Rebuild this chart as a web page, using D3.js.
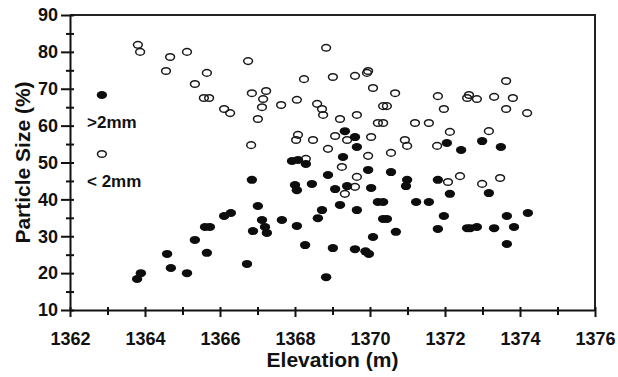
<!DOCTYPE html>
<html>
<head>
<meta charset="utf-8">
<script src="https://cdn.jsdelivr.net/npm/d3@7"></script>
<style>
  body { margin: 0; background: #fff; }
  svg { display: block; }
  text { font-family: "Liberation Sans", Arial, sans-serif; font-weight: bold; fill: #111; }
</style>
</head>
<body>
<div id="chart"></div>
<script>
// elevation (m) / particle size (%)
const coarseElev = [1369.33, 1369.60, 1369.65, 1369.28, 1367.92, 1368.08, 1368.29, 1368.88, 1369.95, 1370.56,
  1368.45, 1369.07, 1369.39, 1370.03, 1370.99, 1370.96, 1371.81, 1372.05, 1372.43, 1372.99,
  1373.49, 1372.13, 1373.17, 1369.20, 1369.65, 1368.72, 1368.61, 1370.21, 1370.35, 1371.23,
  1371.57, 1370.35, 1370.45, 1370.08, 1370.69, 1371.97, 1371.81, 1372.59, 1372.67, 1372.85,
  1373.31, 1373.65, 1373.84, 1374.21, 1373.65, 1368.27, 1369.01, 1369.60, 1369.88, 1369.97,
  1368.83, 1366.85, 1368.00, 1368.05, 1367.01, 1366.11, 1366.29, 1365.60, 1365.73, 1367.12,
  1367.20, 1367.25, 1366.88, 1367.65, 1368.05, 1365.33, 1364.59, 1365.65, 1364.69, 1365.12,
  1363.89, 1363.79, 1366.72];
const coarsePct = [58.5, 56.9, 54.2, 51.5, 50.4, 50.7, 49.6, 46.6, 48.0, 47.4,
  44.2, 42.8, 43.6, 43.1, 45.3, 43.6, 45.3, 55.3, 53.4, 55.8,
  54.2, 41.5, 41.7, 38.5, 37.1, 37.1, 34.9, 39.3, 39.3, 39.3,
  39.3, 34.7, 34.7, 29.8, 31.2, 35.5, 32.0, 32.2, 32.2, 32.5,
  32.2, 35.5, 32.5, 36.3, 27.9, 27.6, 26.8, 26.5, 25.9, 25.2,
  18.9, 45.3, 43.9, 42.5, 38.2, 35.5, 36.3, 32.5, 32.5, 34.4,
  32.5, 30.9, 31.4, 34.4, 32.8, 29.0, 25.2, 25.5, 21.4, 20.0,
  20.0, 18.4, 22.5];

const fineElev = [1363.81, 1363.87, 1364.67, 1364.56, 1365.12, 1365.33, 1365.65, 1365.57, 1365.71, 1366.11,
  1366.27, 1366.75, 1366.85, 1367.23, 1367.15, 1367.12, 1367.01, 1366.83, 1367.63, 1368.05,
  1368.24, 1368.08, 1368.03, 1368.48, 1368.29, 1368.83, 1369.01, 1369.60, 1369.92, 1369.95,
  1370.08, 1370.67, 1368.59, 1368.72, 1368.75, 1369.20, 1369.65, 1370.35, 1370.45, 1370.21,
  1370.35, 1371.20, 1371.57, 1371.81, 1371.97, 1372.59, 1372.64, 1372.85, 1373.31, 1373.81,
  1373.63, 1373.63, 1374.19, 1372.13, 1373.17, 1369.07, 1369.39, 1370.03, 1368.88, 1369.95,
  1370.56, 1370.93, 1370.99, 1371.79, 1369.25, 1369.65, 1369.60, 1369.33, 1372.40, 1372.08,
  1372.99, 1373.47];
const finePct = [81.9, 80.0, 78.6, 74.8, 80.0, 71.3, 74.3, 67.5, 67.5, 64.5,
  63.4, 77.5, 68.8, 69.4, 67.2, 65.0, 61.8, 54.7, 65.6, 67.0,
  72.6, 57.5, 56.1, 56.1, 51.0, 81.1, 73.2, 73.5, 74.3, 74.8,
  70.2, 68.8, 65.9, 64.5, 62.9, 61.8, 62.9, 65.3, 65.3, 60.7,
  60.7, 60.7, 60.7, 68.0, 64.5, 67.5, 68.3, 67.2, 67.8, 67.5,
  72.1, 64.5, 63.4, 58.3, 58.5, 57.2, 56.1, 56.9, 53.7, 51.8,
  52.6, 56.1, 54.5, 54.5, 48.8, 46.1, 43.4, 41.5, 46.3, 44.7,
  44.2, 45.8];

const xMajor = [1362, 1364, 1366, 1368, 1370, 1372, 1374, 1376];
const xMinor = [1363, 1365, 1367, 1369, 1371, 1373, 1375];
const yMajor = [10, 20, 30, 40, 50, 60, 70, 80, 90];
const yMinor = [15, 25, 35, 45, 55, 65, 75, 85];

const legendItems = [
  { label: ">2mm", filled: true, elev: 1362.85, pct: 68.3 },
  { label: "< 2mm", filled: false, elev: 1362.85, pct: 52.3 }
];

const W = 618, H = 377;
const margin = { top: 15, right: 23, bottom: 67, left: 70 };

const svg = d3.select("#chart").append("svg")
  .attr("width", W)
  .attr("height", H);

const x = d3.scaleLinear().domain([1362, 1376]).range([margin.left, W - margin.right]);
const y = d3.scaleLinear().domain([10, 90]).range([H - margin.bottom, margin.top]);

// frame (top + right)
svg.append("path")
  .attr("d", `M${x(1362)},${y(90)}H${x(1376)}V${y(10)}`)
  .attr("fill", "none")
  .attr("stroke", "#222")
  .attr("stroke-width", 2);

// y axis
const gy = svg.append("g").attr("transform", `translate(${margin.left},0)`);
gy.call(d3.axisLeft(y).tickValues(yMajor).tickSize(9).tickSizeOuter(0).tickPadding(3).tickFormat(d3.format("d")));
gy.append("g").call(d3.axisLeft(y).tickValues(yMinor).tickSize(4).tickSizeOuter(0).tickFormat(""));
gy.append("g").call(d3.axisRight(y).tickValues(yMajor.concat(yMinor)).tickSize(4).tickSizeOuter(0).tickFormat(""));
gy.selectAll("g g .domain").remove();
gy.selectAll("text").style("font-size", "18px").attr("font-family", null);

// x axis
const gx = svg.append("g").attr("transform", `translate(0,${H - margin.bottom})`);
gx.call(d3.axisBottom(x).tickValues(xMajor).tickSize(7).tickSizeOuter(0).tickPadding(15).tickFormat(d3.format("d")));
gx.append("g").call(d3.axisBottom(x).tickValues(xMinor).tickSize(5).tickSizeOuter(0).tickFormat(""));
gx.append("g").call(d3.axisTop(x).tickValues(xMajor.concat(xMinor)).tickSize(3).tickSizeOuter(0).tickFormat(""));
gx.selectAll("g g .domain").remove();
gx.selectAll("text").style("font-size", "18px").attr("font-family", null);

svg.selectAll(".domain, .tick line").attr("stroke", "#111").attr("stroke-width", 2);

// points
const plot = svg.append("g");
plot.selectAll("ellipse.fine")
  .data(d3.zip(fineElev, finePct))
  .join("ellipse")
  .attr("class", "fine")
  .attr("cx", d => x(d[0]))
  .attr("cy", d => y(d[1]))
  .attr("rx", 4.4)
  .attr("ry", 3.3)
  .attr("fill", "none")
  .attr("stroke", "#1a1a1a")
  .attr("stroke-width", 1.5);

plot.selectAll("ellipse.coarse")
  .data(d3.zip(coarseElev, coarsePct))
  .join("ellipse")
  .attr("class", "coarse")
  .attr("cx", d => x(d[0]))
  .attr("cy", d => y(d[1]))
  .attr("rx", 5.2)
  .attr("ry", 4)
  .attr("fill", "#0d0d0d");

// legend
const leg = svg.append("g");
legendItems.forEach(d => {
  leg.append("ellipse")
    .attr("cx", x(d.elev))
    .attr("cy", y(d.pct))
    .attr("rx", d.filled ? 5.2 : 4.4)
    .attr("ry", d.filled ? 4 : 3.3)
    .attr("fill", d.filled ? "#0d0d0d" : "none")
    .attr("stroke", d.filled ? "none" : "#1a1a1a")
    .attr("stroke-width", 1.5);
  leg.append("text")
    .attr("x", 87)
    .attr("y", y(d.pct) + 33)
    .style("font-size", "17px")
    .text(d.label);
});

// axis titles
svg.append("text")
  .attr("x", (x(1362) + x(1376)) / 2)
  .attr("y", 367)
  .attr("text-anchor", "middle")
  .style("font-size", "21px")
  .text("Elevation (m)");

svg.append("text")
  .attr("transform", `translate(30,${(y(10) + y(90)) / 2}) rotate(-90)`)
  .attr("text-anchor", "middle")
  .style("font-size", "21px")
  .text("Particle Size (%)");
</script>
</body>
</html>
